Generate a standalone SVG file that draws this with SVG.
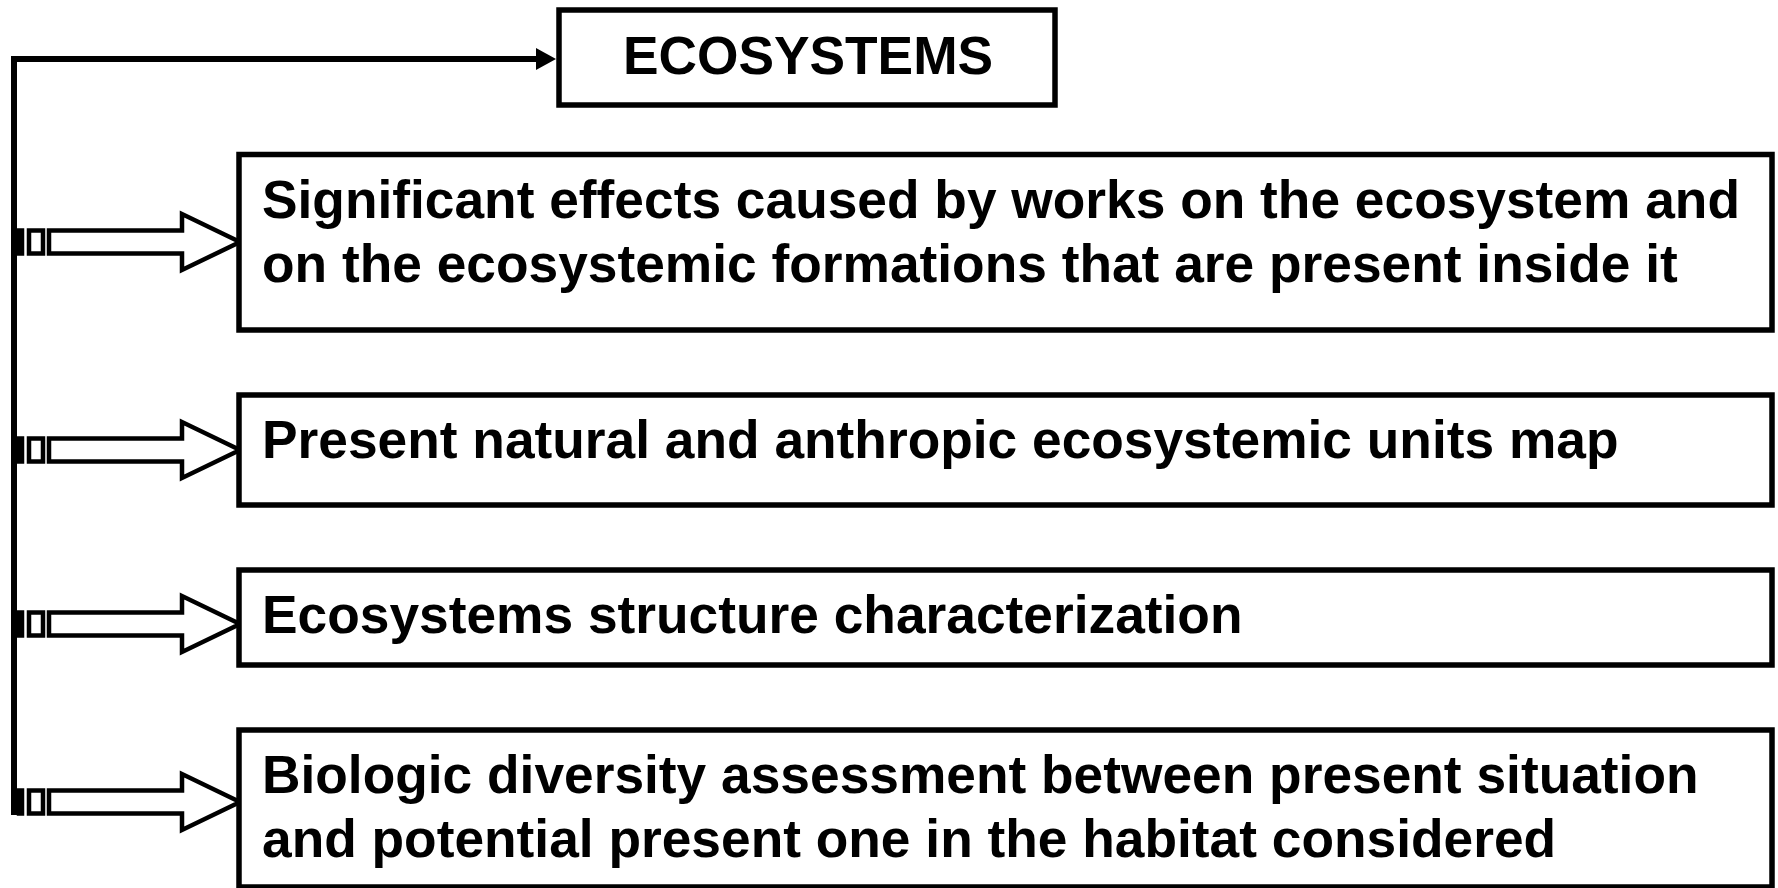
<svg xmlns="http://www.w3.org/2000/svg" width="1778" height="888" viewBox="0 0 1778 888">
<style>
.box{fill:#fff;stroke:#000;stroke-width:5.5}
.t{font-family:"Liberation Sans",Arial,sans-serif;font-weight:bold;font-size:53.3px;fill:#000}
.ln{fill:none;stroke:#000;stroke-width:6}
.ba{fill:#fff;stroke:#000;stroke-width:4.5;stroke-linejoin:miter}
</style>
<defs>
<marker id="ah" markerUnits="userSpaceOnUse" markerWidth="22" markerHeight="22" refX="5" refY="11" orient="auto">
<path d="M0,0 L20,11 L0,22 Z" fill="#000"/>
</marker>
<g id="blk">
<rect class="ba" x="19" y="-11.5" width="3" height="23"/>
<rect class="ba" x="29" y="-11.5" width="14" height="23"/>
<path class="ba" d="M49,-11.5 H182 V-28 L240,0 L182,28 V11.5 H49 Z"/>
</g>
</defs>
<g id="connectors">
<path class="ln" d="M14,815 V59 H541" marker-end="url(#ah)"/>
<use href="#blk" x="0" y="242"/>
<use href="#blk" x="0" y="450"/>
<use href="#blk" x="0" y="624"/>
<use href="#blk" x="0" y="802"/>
</g>
<g id="n0">
<rect class="box" x="559" y="10" width="496" height="95"/>
<text class="t" x="808" y="74" text-anchor="middle">ECOSYSTEMS</text>
</g>
<g id="n1">
<rect class="box" x="239" y="154.5" width="1533" height="175.5"/>
<text class="t" x="262" y="218">Significant effects caused by works on the ecosystem and</text>
<text class="t" x="262" y="282">on the ecosystemic formations that are present inside it</text>
</g>
<g id="n2">
<rect class="box" x="239" y="395" width="1533" height="110"/>
<text class="t" x="262" y="458">Present natural and anthropic ecosystemic units map</text>
</g>
<g id="n3">
<rect class="box" x="239" y="570" width="1533" height="95"/>
<text class="t" x="262" y="633">Ecosystems structure characterization</text>
</g>
<g id="n4">
<rect class="box" x="239" y="730" width="1533" height="157"/>
<text class="t" x="262" y="793">Biologic diversity assessment between present situation</text>
<text class="t" x="262" y="857">and potential present one in the habitat considered</text>
</g>
</svg>
